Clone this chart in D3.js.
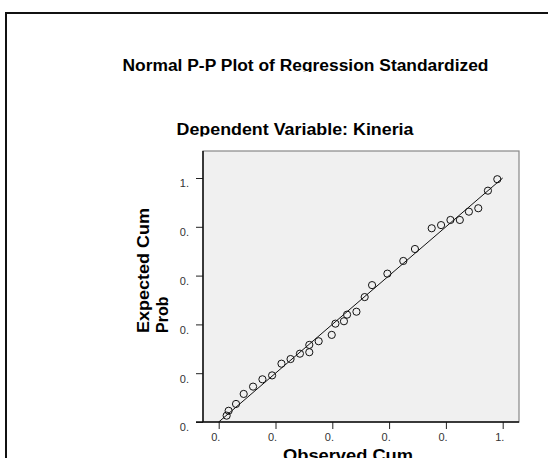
<!DOCTYPE html>
<html>
<head>
<meta charset="utf-8">
<script src="https://cdn.jsdelivr.net/npm/d3@7"></script>
<style>
  body { margin: 0; background: #fff; }
  text { font-family: Arial, "Liberation Sans", sans-serif; }
</style>
</head>
<body>
<script>
// observed vs expected cumulative probabilities
var observed = [0.028, 0.035, 0.061, 0.088, 0.121, 0.154, 0.188, 0.221, 0.253, 0.286,
  0.319, 0.319, 0.352, 0.398, 0.411, 0.441, 0.452, 0.485, 0.514, 0.540,
  0.594, 0.650, 0.691, 0.750, 0.783, 0.816, 0.849, 0.881, 0.914, 0.948, 0.981];
var expected = [0.026, 0.046, 0.074, 0.115, 0.145, 0.175, 0.191, 0.239, 0.258, 0.280,
  0.316, 0.286, 0.331, 0.357, 0.403, 0.413, 0.440, 0.452, 0.512, 0.561,
  0.608, 0.660, 0.709, 0.794, 0.807, 0.828, 0.828, 0.862, 0.876, 0.948, 0.995];
var tickValues = [0, 0.2, 0.4, 0.6, 0.8, 1];
var tickLabels = ["0.", "0.", "0.", "0.", "0.", "1."];

var width = 548, height = 458;

var svg = d3.select("body").append("svg")
  .attr("width", width)
  .attr("height", height);

// outer frame (runs off the right/bottom edge)
svg.append("rect")
  .attr("x", 6).attr("y", 13)
  .attr("width", 600).attr("height", 500)
  .attr("fill", "none")
  .attr("stroke", "#111")
  .attr("stroke-width", 2);

var x = d3.scaleLinear().domain([0, 1]).range([218.7, 502.7]);
var y = d3.scaleLinear().domain([0, 1]).range([422, 178]);

var plot = { left: 203, right: 519, top: 151, bottom: 422 };

// title lines are clipped just under the baseline, like the original
var defs = svg.append("defs");
defs.append("clipPath").attr("id", "clipTitle")
  .append("rect").attr("x", 0).attr("y", 0).attr("width", width).attr("height", 72);
defs.append("clipPath").attr("id", "clipSub")
  .append("rect").attr("x", 0).attr("y", 100).attr("width", width).attr("height", 36.5);

svg.append("text")
  .attr("clip-path", "url(#clipTitle)")
  .attr("x", 122.5).attr("y", 70.7)
  .attr("textLength", 366).attr("lengthAdjust", "spacingAndGlyphs")
  .style("font-size", "16px").style("font-weight", "bold")
  .text("Normal P-P Plot of Regression Standardized");

svg.append("text")
  .attr("clip-path", "url(#clipSub)")
  .attr("x", 176.5).attr("y", 135)
  .attr("textLength", 237).attr("lengthAdjust", "spacingAndGlyphs")
  .style("font-size", "16.5px").style("font-weight", "bold")
  .text("Dependent Variable: Kineria");

// plot background
svg.append("rect")
  .attr("x", plot.left).attr("y", plot.top)
  .attr("width", plot.right - plot.left)
  .attr("height", plot.bottom - plot.top)
  .attr("fill", "#f0f0f0")
  .attr("stroke", "#888")
  .attr("stroke-width", 1.2);

// axes
var yAxis = d3.axisLeft(y)
  .tickValues(tickValues)
  .tickSize(7)
  .tickFormat(function (d, i) { return tickLabels[i]; });
var gy = svg.append("g")
  .attr("transform", "translate(" + plot.left + ",0)")
  .call(yAxis);
gy.select(".domain").remove();
gy.selectAll(".tick line").attr("stroke", "#222");
gy.selectAll(".tick text")
  .attr("x", -14).attr("dy", "0.8em")
  .attr("fill", "#333")
  .style("font-size", "11px")
  .style("font-family", "Arial, 'Liberation Sans', sans-serif");

var xAxis = d3.axisBottom(x)
  .tickValues(tickValues)
  .tickSize(7)
  .tickFormat(function (d, i) { return tickLabels[i]; });
var gx = svg.append("g")
  .attr("transform", "translate(0," + plot.bottom + ")")
  .call(xAxis);
gx.select(".domain").remove();
gx.selectAll(".tick line").attr("stroke", "#222");
gx.selectAll(".tick text")
  .attr("text-anchor", "start")
  .attr("x", -8).attr("y", 11).attr("dy", "0.71em")
  .attr("fill", "#333")
  .style("font-size", "11px")
  .style("font-family", "Arial, 'Liberation Sans', sans-serif");

// black axis lines
svg.append("line")
  .attr("x1", plot.left).attr("x2", plot.left)
  .attr("y1", plot.top).attr("y2", plot.bottom)
  .attr("stroke", "#111").attr("stroke-width", 1.5);
svg.append("line")
  .attr("x1", plot.left - 7).attr("x2", plot.right)
  .attr("y1", plot.bottom).attr("y2", plot.bottom)
  .attr("stroke", "#111").attr("stroke-width", 1.5);

// reference diagonal
svg.append("line")
  .attr("x1", x(0)).attr("y1", y(0))
  .attr("x2", x(1)).attr("y2", y(1))
  .attr("stroke", "#111").attr("stroke-width", 1);

// points
svg.selectAll(".dot")
  .data(observed)
  .enter()
  .append("circle")
  .attr("class", "dot")
  .attr("r", 3.6)
  .attr("cx", function (d) { return x(d); })
  .attr("cy", function (d, i) { return y(expected[i]); })
  .attr("fill", "none")
  .attr("stroke", "#111")
  .attr("stroke-width", 1);

// axis titles
svg.append("text")
  .attr("transform", "translate(149,333) rotate(-90)")
  .attr("textLength", 125).attr("lengthAdjust", "spacingAndGlyphs")
  .style("font-size", "16px").style("font-weight", "bold")
  .text("Expected Cum");
svg.append("text")
  .attr("transform", "translate(168,333) rotate(-90)")
  .style("font-size", "16px").style("font-weight", "bold")
  .text("Prob");

// x title sits partly below the bottom edge, as in the original
svg.append("text")
  .attr("x", 283).attr("y", 461)
  .attr("textLength", 130).attr("lengthAdjust", "spacingAndGlyphs")
  .style("font-size", "16px").style("font-weight", "bold")
  .text("Observed Cum");
</script>
</body>
</html>
